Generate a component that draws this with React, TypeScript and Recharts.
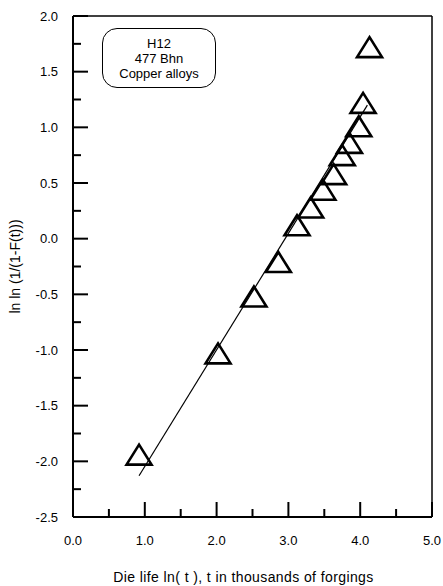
import React from "react";
import { ScatterChart, Scatter, XAxis, YAxis, ReferenceLine } from "recharts";

// Die life ln(t) (t in thousands of forgings) vs Weibull ln ln(1/(1-F(t)))
const dieLife = [0.92, 2.02, 2.52, 2.86, 3.12, 3.31, 3.48, 3.63, 3.75, 3.85, 3.98, 4.04, 4.13];
const lnLnF = [-1.94, -1.03, -0.52, -0.21, 0.12, 0.28, 0.44, 0.58, 0.75, 0.86, 1.01, 1.22, 1.72];

// fitted straight line, end points
const fitX = [0.92, 4.1];
const fitY = [-2.13, 1.2];

const xTicks = [0, 0.5, 1, 1.5, 2, 2.5, 3, 3.5, 4, 4.5, 5];
const yTicks = [
  -2.5, -2.25, -2, -1.75, -1.5, -1.25, -1, -0.75, -0.5, -0.25, 0,
  0.25, 0.5, 0.75, 1, 1.25, 1.5, 1.75, 2,
];
const noteLines = ["H12", "477 Bhn", "Copper alloys"];

const points = dieLife.map((x, i) => ({ x, y: lnLnF[i] }));
const fitLine = fitX.map((x, i) => ({ x, y: fitY[i] }));

const FONT = "Arial, 'Liberation Sans', sans-serif";
const X_GAP = 19;
const Y_GAP = 15;

const XTick = (props: any) => {
  const { x, y, payload } = props;
  const major = Number.isInteger(payload.value);
  const axisY = y - X_GAP;
  return (
    <g>
      <line x1={x} x2={x} y1={axisY} y2={axisY - (major ? 15 : 8)} stroke="#000" strokeWidth={2} />
      {major && (
        <text x={x} y={y} dy="0.71em" textAnchor="middle" fontSize={13} fontFamily={FONT} fill="#000">
          {payload.value.toFixed(1)}
        </text>
      )}
    </g>
  );
};

const YTick = (props: any) => {
  const { x, y, payload } = props;
  const major = Math.abs(payload.value * 2 - Math.round(payload.value * 2)) < 1e-9;
  const axisX = x + Y_GAP;
  return (
    <g>
      <line x1={axisX} x2={axisX + (major ? 15 : 8)} y1={y} y2={y} stroke="#000" strokeWidth={2} />
      {major && (
        <text x={x} y={y} dy="0.36em" textAnchor="end" fontSize={13} fontFamily={FONT} fill="#000">
          {payload.value.toFixed(1)}
        </text>
      )}
    </g>
  );
};

const Triangle = (props: any) => {
  const { cx, cy } = props;
  return (
    <polygon
      points={`${cx},${cy - 10} ${cx + 12.5},${cy + 10} ${cx - 12.5},${cy + 10}`}
      fill="none"
      stroke="#000"
      strokeWidth={2.6}
    />
  );
};

const NoShape = () => <g />;

export default function App() {
  return (
    <div style={{ position: "absolute", left: 0, top: 0, width: 443, height: 586, background: "#fff" }}>
      <ScatterChart width={443} height={586} margin={{ top: 16, right: 11, bottom: 0, left: 0 }}>
        <XAxis
          type="number"
          dataKey="x"
          domain={[0, 5]}
          ticks={xTicks}
          interval={0}
          tickSize={0}
          tickMargin={X_GAP}
          tickLine={false}
          tick={<XTick />}
          axisLine={{ stroke: "#000", strokeWidth: 2 }}
          height={69}
          label={{
            value: "Die life  ln( t ), t in thousands of forgings",
            position: "insideBottom",
            offset: 4,
            dx: -9,
            fill: "#000",
            fontSize: 14,
            letterSpacing: 0.4,
            fontFamily: FONT,
          }}
        />
        <YAxis
          type="number"
          dataKey="y"
          domain={[-2.5, 2]}
          ticks={yTicks}
          interval={0}
          tickSize={0}
          tickMargin={Y_GAP}
          tickLine={false}
          tick={<YTick />}
          axisLine={{ stroke: "#000", strokeWidth: 2 }}
          width={73}
          label={{
            value: "ln ln (1/(1-F(t)))",
            position: "insideLeft",
            angle: -90,
            offset: 15,
            fill: "#000",
            fontSize: 14,
            fontFamily: FONT,
            style: { textAnchor: "middle" },
          }}
        />
        <ReferenceLine y={2} stroke="#000" strokeWidth={1.5} />
        <ReferenceLine x={5} stroke="#000" strokeWidth={1.5} />
        <Scatter
          data={fitLine}
          line={{ stroke: "#000", strokeWidth: 1.2 }}
          shape={NoShape}
          isAnimationActive={false}
        />
        <Scatter data={points} shape={Triangle} isAnimationActive={false} />
      </ScatterChart>
      <div
        style={{
          position: "absolute",
          left: 102,
          top: 28,
          width: 112,
          height: 58,
          border: "1.3px solid #000",
          borderRadius: 15,
          display: "flex",
          flexDirection: "column",
          justifyContent: "center",
          alignItems: "center",
          fontFamily: FONT,
          fontSize: 13,
          lineHeight: "15px",
          color: "#000",
        }}
      >
        {noteLines.map((t) => (
          <div key={t}>{t}</div>
        ))}
      </div>
    </div>
  );
}
